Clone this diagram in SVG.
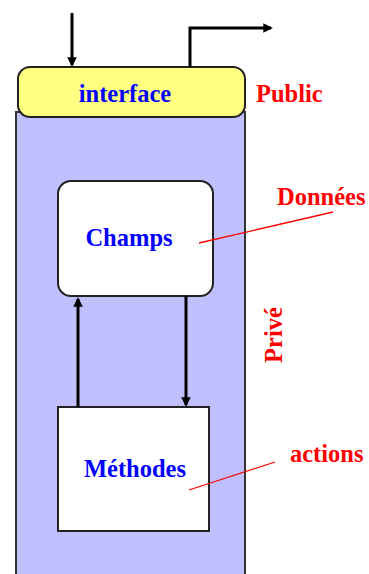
<svg xmlns="http://www.w3.org/2000/svg" width="369" height="574" viewBox="0 0 369 574">
<defs>
<style>
.lbl{font-family:"Liberation Serif","Times New Roman",serif;font-weight:bold;font-size:24.5px}
.blue{fill:#0000ff}
.red{fill:#ff0000}
.wire{stroke:#000;stroke-width:3;fill:none}
.lead{stroke:#ff0000;stroke-width:1.3;fill:none}
.box{stroke:#222;stroke-width:2;fill:#fff}
</style>
<marker id="ah" viewBox="0 0 10 10" refX="8" refY="5" markerWidth="3.2" markerHeight="3.2" orient="auto">
<path d="M0,0 L10,5 L0,10 z" fill="#000"/>
</marker>
</defs>
<rect width="369" height="574" fill="#fff"/>
<g id="objet">
<rect x="16" y="112" width="229" height="470" fill="#c0c0ff" stroke="#333" stroke-width="2"/>
</g>
<g id="interface">
<rect x="18" y="67" width="227" height="50" rx="12" ry="12" fill="#ffff80" stroke="#222" stroke-width="2"/>
<text class="lbl blue" x="125" y="102" text-anchor="middle">interface</text>
</g>
<g id="champs">
<rect class="box" x="58" y="181" width="155" height="115" rx="13" ry="13"/>
<text class="lbl blue" x="129" y="246" text-anchor="middle">Champs</text>
</g>
<g id="methodes">
<rect class="box" x="58" y="407" width="151" height="124"/>
<text class="lbl blue" x="135" y="477" text-anchor="middle">Méthodes</text>
</g>
<g id="labels">
<text class="lbl red" x="256" y="102">Public</text>
<text class="lbl red" x="277" y="205">Données</text>
<text class="lbl red" x="290" y="462">actions</text>
<text class="lbl red" transform="translate(282,335) rotate(-90)" text-anchor="middle">Privé</text>
</g>
<g id="connectors">
<path class="wire" d="M72,13 V65" marker-end="url(#ah)"/>
<path class="wire" d="M190,67 V28 H271" marker-end="url(#ah)"/>
<path class="wire" d="M78,407 V299" marker-end="url(#ah)"/>
<path class="wire" d="M186,296 V405" marker-end="url(#ah)"/>
<path class="lead" d="M199,243 L333,212"/>
<path class="lead" d="M189,490 L275,462"/>
</g>
</svg>
